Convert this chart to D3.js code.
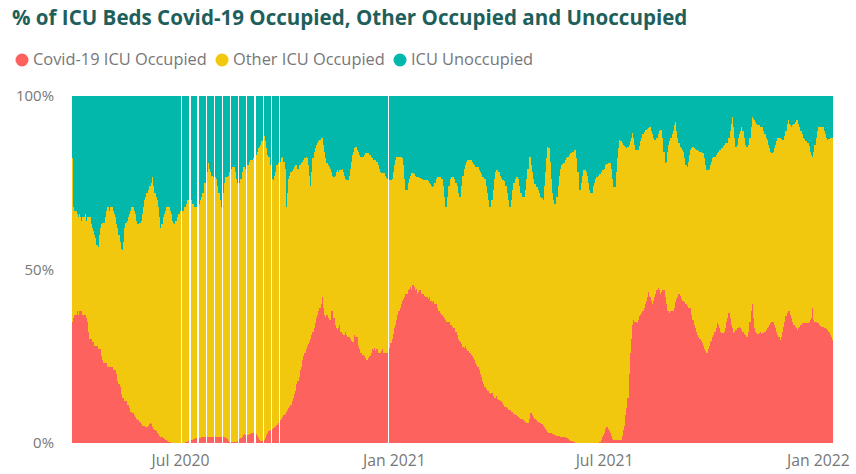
<!DOCTYPE html>
<html>
<head>
<meta charset="utf-8">
<script src="https://cdn.jsdelivr.net/npm/d3@7"></script>
<style>
  body { margin: 0; background: #fff; }
  svg { display: block; font-family: "Open Sans", "Noto Sans", sans-serif; }
</style>
</head>
<body>
<svg id="chart" width="856" height="474"></svg>
<script>
// ---- Data: daily share of ICU beds (%), first day 30 Mar 2020 ----
const startDate = "2020-03-30";
const chartTitle = "% of ICU Beds Covid-19 Occupied, Other Occupied and Unoccupied";
const seriesNames = ["Covid-19 ICU Occupied", "Other ICU Occupied", "ICU Unoccupied"];
const seriesColors = ["#FD625E", "#F2C80F", "#01B8AA"];
const yTickValues = [0, 50, 100];
const yTickLabels = ["0%", "50%", "100%"];
const xTickDates = ["2020-07-01", "2021-01-01", "2021-07-01", "2022-01-01"];
const xTickLabels = ["Jul 2020", "Jan 2021", "Jul 2021", "Jan 2022"];

// Covid-19 occupied beds, % of all ICU beds (null = no report that day), one row per week
const covidPct = [
  35,36,37,37,38,37,38,
  38,38,37,37,37,36,35,
  32,30,30,29,29,28,28,
  28,27,27,27,25,24,23,
  23,23,22,22,22,22,22,
  21,21,21,20,18,17,16,
  14,13,13,12,12,11,11,
  10,9,9,8.6,8,7.5,7,
  6.6,6.5,6,5.5,5,5,4.8,
  4.7,4.5,5,5.5,5.7,5.5,4.5,
  4,3.7,3.5,3,2.5,2,1.8,
  1.7,1.5,1.2,1,0.8,0.5,0.3,
  0.2,0.1,0,0,0,0,0,
  0,0,0,null,0,0,0.3,
  0.3,0.2,0.5,null,0.8,1,1.2,
  1.2,1.3,1.3,null,1.4,1.4,1.6,
  1.7,1.7,1.7,null,1.8,1.7,1.7,
  1.7,1.6,1.7,null,1.7,1.8,1.7,
  1.7,1.7,1.7,null,1.6,1.7,1.5,
  1.2,0.6,0.3,null,0.3,0.3,0.3,
  0.3,0.3,0.5,null,1.2,1.5,1.8,
  2.2,2.5,2.3,null,2.4,2.5,2.7,
  2.9,2.9,2.9,null,2.5,2,1.5,
  1,0.6,0.5,null,0.8,1.5,2.2,
  3,3.5,3.7,null,4,4.3,4.7,
  4.7,5.2,5.8,null,6.6,7,7.5,
  8,8.5,9,9.5,10,10.5,11,
  12,13,14,15,17,18,19,
  21,22,24,25,26,27,28,
  28.5,29,30,31,32,33,34.6,
  36,37,38,39,40,42,39,
  37,36.3,37,36,35.4,35.5,38,
  38,36,34,33,32.6,33,34,
  32,31.5,31,31,32,31,30.5,
  30.5,30,29.5,29,29,31,30.5,
  30.5,28,27,26,26,25.5,25,
  24.5,24,24,24.5,25,26,27,
  26.8,27.5,26.5,27,26,26,26,
  26.5,27,26,26,26,26,null,
  27.5,28.8,30,31.5,33,34,35.5,
  37,38,39,40,41,41.5,42,
  43,43,44,44.5,45,44,45.5,
  45,44,44.5,43,43.5,44,43,
  43,43,42.5,42,42,41.5,42,
  41,41,40.5,41,40,40,39,
  38,38,37.5,37,36.3,36,35.5,
  35,35,35,34,34,33.5,33,
  33,32,31,30,29.5,29,28.5,
  27.7,27.5,28,27,26.5,26.5,26,
  25.5,25,24.5,24,23,22.5,22,
  21,20,19,18,17,16,15.5,
  15,15,14.5,14,14.5,13.5,13,
  13,13.5,12.8,12.4,12,12,11.5,
  11,10.5,10.5,10,9.5,9.5,9.5,
  9,8.8,8.5,8,8,7.8,7.5,
  7.3,7,6.8,6.5,6.2,6,5.8,
  5.7,7,8.6,8.6,8.2,7.5,7,
  6.5,6,6,5.8,5.7,5.5,5,
  4.5,4,3.7,3.3,3,2.9,2.8,
  2.6,2.5,2.3,2.2,2,2,1.9,
  1.8,1.8,1.7,1.7,1.6,1.5,1.3,
  1.1,0.9,0.7,0.5,0.3,0.2,0.1,
  0,0,0,0,0,0,0,
  0,0,0,0,0,0,0,
  0,0,0,0,0,0,0.2,
  0.8,1.7,2.2,3,4,4.7,4,
  3.5,2.9,2,1.2,0.9,0.9,0.9,
  0.9,0.9,0.9,1,2,3.7,5,
  8,10,13,20,26,30,34,
  35.4,35,34.8,34.6,35.5,36.5,37,
  37.5,38,39,40,41,42,43.5,
  42,41,40,41,42,43,44,
  44.6,44,43,43.5,44,44,42,
  40,38,38,37.5,38,38,38,
  39,40.5,41.5,42,43,42.5,41.5,
  41,41,40.5,40,39.5,39,39,
  39,37,35.4,34,33,32,31,
  30.5,30,29.5,28.8,28,27,26.5,
  26,27,28,29,29.5,30.5,31,
  32,33,34.6,34,33,32,31.7,
  31.7,32,33,35,36,37.5,36,
  34,33,31.7,32,32.5,33,33,
  33.4,33,32.5,32,31.5,31,30.5,
  30.5,32,35,38,40,36,33,
  32,31.7,31.5,31.7,32,31.5,31.7,
  31.7,32,32.5,33,33.5,34,34.5,
  35,35,34,33,32,31,30.5,
  29.7,30.5,32,33.5,35,36.5,37.5,
  38,38,37,36,35,34,33.5,
  33,32.6,33,33.5,34,34.5,34.6,
  34.6,34.6,34.5,34.5,35,35.5,36,
  39,35.5,35,34.8,34.6,34.5,34,
  33.8,33.5,33.3,33,33,32.8,32.6,
  32,31,30.5,29.7
];

// Unoccupied beds, % of all ICU beds (null = no report that day), one row per week
const unoccupiedPct = [
  18,32,33,33,34,35,34,
  35,36,35,35,34,36,35,
  35,35,37,38,39,40,41,
  43,43.5,40,38,37,36.6,36.6,
  35,33,32,32,33,32,32,
  33,34,35,37,38,40,42,
  44,44.4,42,38,36.6,36,35,
  34,33,32,32,33,34,36,
  37,37,36.6,36,34,32,30,
  29,28,27,26,26,25,23.3,
  26,28,29,30,32,35,38,
  37,35,34,33,32,32,32,
  33,34,36,36.6,37,36,35,
  34,34,33,null,33,32,32,
  31,30,30,null,30,31,31,
  32,32,32,null,31,30,29,
  28,28,25,null,22,19.3,21,
  22,23,23.3,null,23.3,24,26,
  28,30,32,null,28,25,23.3,
  23.3,23,22,null,21,20.5,20.5,
  22,24,25,null,25,24,22,
  20.5,20.5,21,null,20,19,18.4,
  18.4,18.4,18,null,17,16,15,
  14.7,14,13,null,11.5,13,15,
  17,17.6,20,null,24,24.2,23,
  22,20,19.3,null,19,18,17.6,
  19,21,32,28,24,23,22,
  21.5,21,20.5,20,20,21,20,
  20,19.3,19,18.5,18,17.6,18,
  20,23,26,22,18,16,15,
  14,13.5,13,12.7,12,12,14,
  16,18,19.3,20,20.5,21,22,
  23,23.3,23,22,21.3,22,21.3,
  21.3,21,22,23,24,24.2,24.2,
  23,21,19,17,16,15,14.7,
  15.5,16,17,17.6,17.6,17.6,17,
  16.4,16.4,16.4,16.4,17,17.6,18,
  18.4,18.4,18.4,19,20,21,22,
  22.2,22.2,22.2,23,23.5,24,null,
  24.2,24.2,24,22,20,18.5,17.6,
  17.6,17.6,17.6,17.6,18,20,24,
  27,27,25,24,23,22.2,22.2,
  22.5,23,23.3,23.3,23.3,23.5,24,
  24,24.2,24.2,24.2,24.2,24.5,25,
  25.5,26,26.2,26,25,24,23.3,
  23.3,23.3,23.3,24,26,29,32,
  32,29,26,24,23.3,23.3,23.3,
  24,25,26,28,29,29,26,
  23,21,20,19,18.4,18.4,18.4,
  18.4,19,19.5,20,20.5,20.5,20.5,
  21.3,22,22.5,23.3,23.3,24,26,
  28,30,32,32,30,27,24,
  22,21.3,21.3,22,23,23.5,24.2,
  24.2,24.5,26,28,30,32,32,
  30,27,25,24,23.3,23.3,24,
  26,28,29,29,29,27,24,
  21,17.6,17.6,20,22,24,25.5,
  26.2,26.2,27,28,29,29.5,30,
  26,22,18,14.7,15,19,24,
  28,30,31,31,29,26,23,
  21,20,19.5,19.3,18.5,18,17.6,
  17.6,17,16.5,16,16,15.6,15.6,
  18,22,27,27,25,23,21.3,
  21.3,22,23,25,27,28,28,
  26,25,24,23.3,23.3,23,22.5,
  22,21.3,21.3,21,20,19.5,19.3,
  19.3,19.3,21,24,26.2,26.2,22,
  18,15,12.7,13,13.5,14,14.5,
  14.7,15,14.7,14,13,12,10.7,
  12,14,15.5,15.6,15.6,14.5,13,
  12,11,10.5,9.8,9.8,9.5,9.2,
  9,10,11,12,12.7,12.7,12,
  11,10,9.8,9.8,12,16,19.3,
  19,16,14,13,12,11,10,
  8.5,7.5,10,12,13.5,14.7,15,
  15.5,16,18,20,20.5,19,17,
  15.5,15,14.7,15,15.2,15.5,15.6,
  15.8,16,16.2,16.4,16.4,18,20,
  21.3,21.3,21,20,19,18,17.6,
  17.6,17,16.5,16,15.6,15.6,15,
  14.5,14,13.5,13.5,13.5,12,10,
  8,6,9,12,14.7,14,12,
  11,10,9,10,12,14,14.7,
  14.7,14,12,9,6,6.5,7,
  7.5,8,8.5,8.5,9,9,9,
  10,11,12,12.7,14,15,16,
  16.4,16,15,14,13,12,12,
  12,12.5,12.7,12.7,11.5,10,8,
  7,8,8.5,9,8.5,8,7.5,
  7,7,8,9,10,11,12,
  12.5,13,13,13.5,14.5,16,17,
  17.6,16,14,12,10,9,9,
  9,9,9,10,11,12,12.7,
  12.5,12,12,12
];

// ---- Layout ----
const svg = d3.select("#chart");
const plot = { left: 72, right: 833, top: 96, bottom: 443 };
const textGrey = "#777";

// Scale a text node's font so that it spans the given width
function fitFont(node, baseSize, width) {
  node.style.fontSize = baseSize + "px";
  const len = node.getComputedTextLength();
  const size = baseSize * width / len;
  node.style.fontSize = size + "px";
  return size;
}

const start = d3.utcParse("%Y-%m-%d")(startDate);
const rows = covidPct.map((c, i) => {
  const u = unoccupiedPct[i];
  return {
    date: d3.utcDay.offset(start, i),
    covid: c,
    unocc: u,
    other: (c == null || u == null) ? null : 100 - c - u
  };
}).filter(r => r.covid != null && r.unocc != null);

const x = d3.scaleUtc()
  .domain([start, d3.utcDay.offset(start, covidPct.length)])
  .range([plot.left, plot.right]);
const y = d3.scaleLinear().domain([0, 100]).range([plot.bottom, plot.top]);

// ---- Stacked daily columns ----
const keys = ["covid", "other", "unocc"];
const stacked = d3.stack().keys(keys)(rows);

svg.append("g")
  .attr("shape-rendering", "crispEdges")
  .selectAll("g")
  .data(stacked)
  .join("g")
  .attr("fill", (d, i) => seriesColors[i])
  .selectAll("rect")
  .data(d => d)
  .join("rect")
  .attr("x", d => x(d.data.date))
  .attr("width", d => x(d3.utcDay.offset(d.data.date, 1)) - x(d.data.date))
  .attr("y", d => y(d[1]))
  .attr("height", d => y(d[0]) - y(d[1]));

// ---- Axes ----
const yAxis = d3.axisLeft(y)
  .tickValues(yTickValues)
  .tickFormat((d, i) => yTickLabels[i])
  .tickSize(0)
  .tickPadding(0);
const yG = svg.append("g")
  .attr("transform", `translate(${plot.left - 18},0)`)
  .call(yAxis)
  .call(g => g.select(".domain").remove());
yG.selectAll("text")
  .attr("fill", textGrey)
  .style("font-family", "'Open Sans', sans-serif");
const ySize = fitFont(yG.selectAll("text").filter((d, i) => i === 2).node(), 14, 38);
yG.selectAll("text").style("font-size", ySize + "px");

const parse = d3.utcParse("%Y-%m-%d");
const xAxis = d3.axisBottom(x)
  .tickValues(xTickDates.map(parse))
  .tickFormat((d, i) => xTickLabels[i])
  .tickSize(0)
  .tickPadding(0);
const xG = svg.append("g")
  .attr("transform", `translate(0,${plot.bottom + 12})`)
  .call(xAxis)
  .call(g => g.select(".domain").remove());
xG.selectAll("text")
  .attr("fill", textGrey)
  .style("font-family", "'Open Sans', sans-serif");
const xSize = fitFont(xG.select("text").node(), 14, 58);
xG.selectAll("text").style("font-size", xSize + "px");

// ---- Title ----
const title = svg.append("text")
  .attr("x", 12)
  .attr("y", 25)
  .attr("fill", "#1F5F5B")
  .style("font-weight", "700")
  .text(chartTitle);
fitFont(title.node(), 17, 676);

// ---- Legend ----
const legendX = [22, 222, 400];
const legend = svg.append("g").attr("transform", "translate(0,60)");
const legendTexts = seriesNames.map((name, i) => {
  legend.append("circle")
    .attr("cx", legendX[i])
    .attr("cy", 0)
    .attr("r", 6.5)
    .attr("fill", seriesColors[i]);
  return legend.append("text")
    .attr("x", legendX[i] + 11)
    .attr("y", 5)
    .attr("fill", "#777")
    .text(name);
});
const legendSize = fitFont(legendTexts[0].node(), 14, 174);
legendTexts.forEach(t => t.style("font-size", legendSize + "px"));
</script>
</body>
</html>
